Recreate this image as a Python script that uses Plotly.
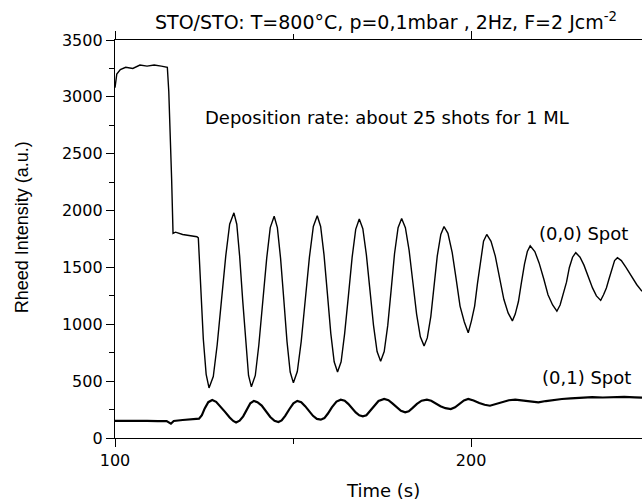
import plotly.graph_objects as go

# (0,0) spot intensity
t00 = [100, 100.5, 101.5, 103, 105, 107, 109, 111, 113, 114.7, 115.1, 115.5, 115.9, 116.3,
       117, 119, 121, 123, 123.4, 123.9, 124.8, 125.6, 126.4,
       127.6, 128.7, 129.9, 131.1, 132.2, 133.4,
       134.2, 135.0, 135.85, 136.7, 137.5, 138.3,
       139.4, 140.4, 141.5, 142.6, 143.6, 144.7,
       145.6, 146.5, 147.4, 148.3, 149.2, 150.1,
       151.2, 152.3, 153.45, 154.6, 155.7, 156.8,
       157.75, 158.7, 159.65, 160.6, 161.55, 162.5,
       163.5, 164.5, 165.55, 166.6, 167.6, 168.6,
       169.6, 170.6, 171.6, 172.6, 173.6, 174.6,
       175.6, 176.6, 177.55, 178.5, 179.5, 180.5,
       181.55, 182.6, 183.65, 184.7, 185.75, 186.8,
       187.7, 188.7, 189.6, 190.5, 191.5, 192.4,
       193.5, 194.7, 195.8, 196.9, 198.1, 199.2,
       200.1, 201.0, 201.8, 202.7, 203.5, 204.4,
       205.6, 206.8, 208.0, 209.2, 210.4, 211.6,
       212.4, 213.3, 214.1, 215.0, 215.8, 216.6,
       217.9, 219.1, 220.4, 221.6, 222.9, 224.1,
       225.0, 225.9, 226.8, 227.6, 228.5, 229.4,
       230.6, 231.7, 232.9, 234.1, 235.2, 236.4,
       237.2, 238.0, 238.75, 239.5, 240.3, 241.1,
       242.2, 243.5, 245.0, 246.5, 248]
i00 = [3080, 3200, 3240, 3260, 3250, 3280, 3270, 3280, 3270, 3260, 3050, 2700, 2280, 1800,
       1810, 1790, 1780, 1770, 1760, 1420, 870, 560, 440,
       540, 820, 1210, 1600, 1880, 1980,
       1880, 1600, 1215, 830, 550, 450,
       550, 820, 1200, 1580, 1850, 1950,
       1850, 1580, 1220, 850, 580, 485,
       585, 850, 1220, 1590, 1860, 1955,
       1860, 1610, 1270, 920, 670, 580,
       670, 920, 1250, 1590, 1835, 1925,
       1840, 1610, 1300, 990, 760, 675,
       760, 990, 1300, 1620, 1850, 1930,
       1850, 1650, 1370, 1090, 890, 810,
       880, 1070, 1335, 1600, 1790, 1860,
       1800, 1630, 1400, 1160, 1020, 925,
       1030, 1160, 1360, 1570, 1730, 1790,
       1730, 1600, 1410, 1220, 1100, 1030,
       1090, 1200, 1360, 1530, 1640, 1690,
       1640, 1540, 1400, 1260, 1170, 1115,
       1170, 1260, 1370, 1500, 1590, 1630,
       1590, 1520, 1420, 1320, 1250, 1210,
       1260, 1320, 1400, 1490, 1560, 1585,
       1560, 1500, 1420, 1350, 1290]

# (0,1) spot intensity
t01 = [100, 103, 106, 109, 112, 114.5, 115.7, 116.5, 119, 122, 123.6, 124.4, 125.2, 126.2,
       127.3, 128.4, 129.6, 130.9, 132.2, 133.2, 134, 135, 136, 137, 138, 139, 140, 141.2,
       142.4, 143.6, 144.8, 145.9, 146.8, 147.8, 149, 150.1, 151.2, 152.3, 153.4, 154.5,
       155.6, 156.7, 157.8, 158.8, 159.8, 160.9, 162.2, 163.4, 164.5, 165.5, 166.6, 167.6,
       168.6, 169.6, 170.6, 171.6, 172.7, 174, 175.6, 176.8, 177.9, 179.2, 180.3, 181.5,
       182.5, 183.6, 184.8, 186.1, 187.6, 188.8, 190, 191.4, 192.8, 194.3, 195.5, 196.7,
       198, 199.2, 200.7, 202.3, 203.8, 205.3, 207, 208.8, 210.6, 212.4, 214.5, 216.5,
       218.9, 221, 223, 225.5, 228, 231, 234, 237, 240, 243, 246, 248]
i01 = [150, 152, 148, 151, 149, 148, 126, 150, 158, 165, 170, 200, 260, 315,
       334, 318, 280, 230, 180, 150, 137, 152, 190, 250, 305, 326, 315, 285,
       235, 185, 152, 141, 155, 195, 255, 305, 326, 315, 280, 235,
       195, 168, 161, 175, 215, 270, 320, 337, 328, 300, 260, 225,
       200, 190, 200, 235, 280, 325, 343, 333, 305, 270, 240, 226,
       235, 265, 300, 328, 337, 328, 305, 280, 262, 255, 270, 300,
       330, 343, 330, 308, 292, 284, 298, 318, 332, 337, 330, 318,
       314, 325, 335, 343, 348, 355, 360, 356, 360, 362, 358, 355]

title_text = "STO/STO: T=800°C, p=0,1mbar , 2Hz, F=2 Jcm<sup>-2</sup>"
note_text = "Deposition rate: about 25 shots for 1 ML"
label00 = "(0,0) Spot"
label01 = "(0,1) Spot"
x_title = "Time (s)"
y_title = "Rheed Intensity (a.u.)"
x_ticks = [100, 200]
y_ticks = [0, 500, 1000, 1500, 2000, 2500, 3000, 3500]

FONT = "Liberation Sans, Arial, sans-serif"
WIDE = "DejaVu Sans, Liberation Sans, sans-serif"

fig = go.Figure()
fig.add_trace(go.Scatter(x=t00, y=i00, mode="lines",
                         line=dict(color="black", width=1.4), showlegend=False))
fig.add_trace(go.Scatter(x=t01, y=i01, mode="lines",
                         line=dict(color="black", width=2.2), showlegend=False))

axis_common = dict(showline=True, linecolor="black", linewidth=1.3, ticks="outside",
                   tickcolor="black", tickwidth=1.3, ticklen=8, showgrid=False,
                   zeroline=False, tickfont=dict(family=WIDE, size=16, color="black"))

fig.update_xaxes(range=[100, 248], tickvals=x_ticks, ticktext=[str(v) for v in x_ticks],
                 mirror="ticks",
                 minor=dict(ticks="outside", dtick=50, tick0=100, ticklen=5,
                            tickcolor="black", tickwidth=1.3),
                 **axis_common)
fig.update_yaxes(range=[0, 3500], tickvals=y_ticks, ticktext=[str(v) for v in y_ticks],
                 minor=dict(ticks="outside", dtick=250, tick0=0, ticklen=5,
                            tickcolor="black", tickwidth=1.3),
                 **axis_common)

ann_font = dict(family=WIDE, size=18, color="black")
fig.add_annotation(text=title_text, xref="paper", yref="paper", x=0.514, y=1.047,
                   showarrow=False, font=dict(family=WIDE, size=19, color="black"),
                   xanchor="center", yanchor="middle")
fig.add_annotation(text=note_text, x=176.4, y=2820, showarrow=False, font=ann_font,
                   xanchor="center", yanchor="middle")
fig.add_annotation(text=label00, x=231.7, y=1799, showarrow=False, font=ann_font,
                   xanchor="center", yanchor="middle")
fig.add_annotation(text=label01, x=232.5, y=531, showarrow=False, font=ann_font,
                   xanchor="center", yanchor="middle")
fig.add_annotation(text=x_title, xref="paper", yref="paper", x=0.508, y=-0.133,
                   showarrow=False, font=ann_font, xanchor="center", yanchor="middle")
fig.add_annotation(text=y_title, xref="paper", yref="paper", x=-0.176, y=0.530,
                   showarrow=False, font=dict(family=FONT, size=18, color="black"),
                   textangle=-90, xanchor="center", yanchor="middle")

fig.update_layout(width=642, height=504, plot_bgcolor="white", paper_bgcolor="white",
                  margin=dict(l=115, r=0, t=40, b=66), font=dict(family=FONT))

fig.write_html("out.html", config={"displayModeBar": False},
               post_script="document.body.style.margin='0';document.body.style.overflow='hidden';")
